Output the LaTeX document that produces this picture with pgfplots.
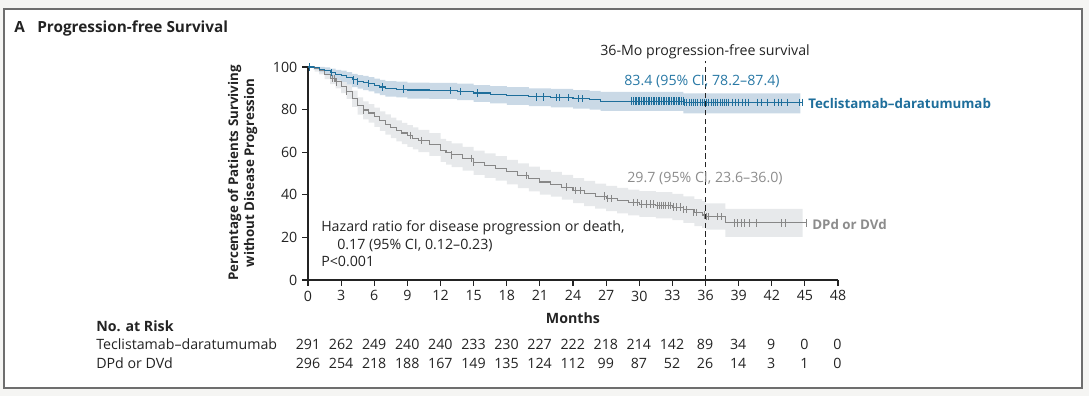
\documentclass[border=0pt]{standalone}
\usepackage{pgfplots}
\pgfplotsset{compat=1.18}
\usepackage{pgfplotstable}
\usepgfplotslibrary{fillbetween}
\usepackage{fontspec}
\setmainfont{Open Sans}
\definecolor{tdblue}{RGB}{30,110,155}
\definecolor{tdbluetxt}{RGB}{40,120,165}
\definecolor{tdband}{RGB}{202,217,230}
\definecolor{dgray}{RGB}{135,135,135}
\definecolor{dgraytxt}{RGB}{140,140,140}
\definecolor{dband}{RGB}{231,233,235}
\definecolor{bgout}{RGB}{245,245,243}
\definecolor{framec}{RGB}{110,110,110}
\definecolor{txt}{RGB}{35,35,35}
\newcommand{\fs}{\fontsize{10.65pt}{12pt}\selectfont}
\newcommand{\fb}{\fontsize{10pt}{12pt}\selectfont\bfseries}

\pgfplotstableread{
t s
0 100
0.5 99.6
1 99.0
1.5 98.3
2 97.3
2.5 96.6
3 96.0
3.5 95.0
4 94.0
4.5 93.3
5 92.8
5.5 92.2
6 91.3
6.5 90.6
7 90.0
8 89.6
9 89.2
11 89.0
13.5 88.6
15 87.8
16.5 87.2
18 86.6
20 86.0
22 85.6
24 85.1
25.5 84.6
26.5 84.0
34 83.4
44.8 83.4
}\tdcurve

\pgfplotstableread{
t l u
0 100 100
0.5 98.8 100
1 97.6 100
1.5 96.4 99.8
2 94.8 99.2
2.5 93.8 98.7
3 93.0 98.3
3.5 91.8 97.6
4 90.6 96.8
4.5 89.8 96.2
5 89.2 95.8
5.5 88.5 95.3
6 87.6 94.5
6.5 86.8 93.9
7 86.1 93.4
8 85.7 93.1
9 85.2 92.7
11 85.0 92.5
13.5 84.5 92.2
15 83.6 91.5
16.5 82.9 91.0
18 82.2 90.5
20 81.6 90.0
22 81.1 89.7
24 80.5 89.2
25.5 80.0 88.8
26.5 79.4 88.3
34 78.2 87.6
44.6 78.2 87.6
}\tdbandtab

\pgfplotstableread{
t s
0 100
0.6 99.3
1.0 98.3
1.5 96.6
2.0 94.6
2.5 93.0
3.0 91.0
3.5 88.6
4.0 85.3
4.5 81.8
5.0 79.8
5.5 78.4
6.0 76.6
6.5 74.8
7.0 73.2
7.5 71.6
8.0 70.2
8.5 69.0
9.0 67.8
9.5 66.6
10.0 65.4
11.0 63.8
12.0 61.0
12.5 59.8
13.0 58.7
14.0 57.0
15.0 55.2
16.0 53.8
17.0 52.5
18.0 50.8
19.0 49.0
20.0 47.5
21.0 46.0
22.0 45.0
23.0 43.6
24.0 42.0
25.0 40.6
26.0 39.4
27.0 38.2
28.0 37.2
29.0 36.3
30.0 35.6
31.5 35.0
33.0 34.2
34.0 33.0
35.0 31.6
35.7 30.5
36.0 29.7
37.8 26.8
45.1 26.8
}\dcurve

\pgfplotstableread{
t l u
0 100 100
0.6 97.8 100
1.0 96.5 99.8
1.5 94.3 98.6
2.0 91.9 97.0
2.5 90.0 95.7
3.0 87.7 94.0
3.5 85.0 91.9
4.0 81.3 88.9
4.5 77.6 85.7
5.0 75.4 83.9
5.5 73.9 82.6
6.0 71.9 80.9
6.5 70.0 79.2
7.0 68.3 77.7
7.5 66.6 76.2
8.0 65.1 74.9
8.5 63.8 73.8
9.0 62.5 72.7
9.5 61.3 71.6
10.0 60.0 70.5
11.0 58.3 69.0
12.0 55.4 66.3
12.5 54.2 65.2
13.0 53.0 64.1
14.0 51.3 62.5
15.0 49.4 60.7
16.0 48.0 59.4
17.0 46.6 58.1
18.0 44.9 56.4
19.0 43.1 54.7
20.0 41.6 53.2
21.0 40.1 51.7
22.0 39.1 50.8
23.0 37.7 49.4
24.0 36.1 47.8
25.0 34.7 46.5
26.0 33.5 45.3
27.0 32.3 44.2
28.0 31.3 43.2
29.0 30.3 42.4
30.0 29.6 41.7
31.5 28.9 41.2
33.0 28.1 40.4
34.0 26.8 39.3
35.0 25.3 38.0
35.7 24.3 37.0
36.0 23.6 36.0
37.8 20.3 33.4
44.8 20.3 33.4
}\dbandtab

\pgfplotstableread{
t s
0.1 100
2.1 97.3
4.1 94.0
4.5 93.3
5.5 92.2
6.7 90.6
8.6 89.6
12.9 89.0
13.8 88.6
15.3 87.8
20.7 86.0
21.3 86.0
22.5 85.6
22.8 85.6
23.6 85.6
24.5 85.1
24.8 85.1
29.3 84.0
29.45 84.0
29.6 84.0
29.75 84.0
29.9 84.0
30.05 84.0
30.2 84.0
30.35 84.0
30.5 84.0
30.65 84.0
30.8 84.0
30.95 84.0
31.1 84.0
31.25 84.0
31.4 84.0
31.55 84.0
31.7 84.0
31.85 84.0
32.0 84.0
32.15 84.0
32.3 84.0
32.45 84.0
32.6 84.0
32.75 84.0
32.9 84.0
33.05 84.0
33.2 84.0
33.35 84.0
33.5 84.0
33.65 84.0
33.8 84.0
33.95 84.0
34.1 83.4
34.3 83.4
34.5 83.4
34.7 83.4
34.9 83.4
35.1 83.4
35.3 83.4
35.5 83.4
35.7 83.4
35.9 83.4
36.1 83.4
36.3 83.4
36.5 83.4
36.7 83.4
36.9 83.4
37.1 83.4
37.3 83.4
37.5 83.4
37.7 83.4
37.9 83.4
38.1 83.4
38.4 83.4
38.7 83.4
39.0 83.4
39.3 83.4
39.6 83.4
39.9 83.4
40.7 83.4
41.1 83.4
41.6 83.4
42.2 83.4
42.6 83.4
42.9 83.4
43.4 83.4
44.5 83.4
44.8 83.4
}\tdcens

\pgfplotstableread{
t s
2.2 94.6
2.4 94.6
2.6 93.0
3.5 88.6
5.0 79.8
9.25 67.8
10.3 65.4
13.0 58.7
14.8 57.0
15.0 55.2
19.8 49.0
23.4 43.6
24.2 42.0
24.7 42.0
26.8 39.4
27.1 38.2
27.5 38.2
29.5 36.3
29.8 36.3
30.2 35.6
30.6 35.6
31.0 35.6
31.3 35.6
31.6 35.0
31.8 35.0
32.0 35.0
32.2 35.0
32.4 35.0
32.6 35.0
32.8 35.0
33.1 34.2
33.4 34.2
33.7 34.2
34.0 33.0
34.3 33.0
34.9 31.6
35.2 31.6
35.9 30.5
36.1 29.7
36.3 29.7
37.1 29.7
37.4 29.7
38.6 26.8
38.9 26.8
39.2 26.8
39.5 26.8
40.0 26.8
40.6 26.8
42.9 26.8
43.2 26.8
45.1 26.8
}\dcens

\begin{document}
\begin{tikzpicture}
\begin{axis}[
  at={(231pt,87pt)}, anchor=south west,
  scale only axis, width=397.5pt, height=159.75pt,
  xmin=0, xmax=48, ymin=0, ymax=100,
  axis lines=left,
  axis line style={-, line width=0.8pt, txt},
  xtick={0,3,...,48}, ytick={0,20,...,100},
  tick align=outside, major tick length=4.5pt,
  tick style={line width=0.8pt, txt},
  tick label style={font=\fs, text=txt},
  /pgf/number format/assume math mode=true,
  clip=false,
]
\addplot[name path=du, draw=none, const plot, forget plot] table[x=t,y=u]{\dbandtab};
\addplot[name path=dl, draw=none, const plot, forget plot] table[x=t,y=l]{\dbandtab};
\addplot[dband, forget plot] fill between[of=du and dl];
\addplot[name path=bu, draw=none, const plot, forget plot] table[x=t,y=u]{\tdbandtab};
\addplot[name path=bl, draw=none, const plot, forget plot] table[x=t,y=l]{\tdbandtab};
\addplot[tdband, forget plot] fill between[of=bu and bl];

\addplot[const plot, dgray, line width=0.8pt] table[x=t,y=s]{\dcurve};
\addplot[const plot, tdblue, line width=0.8pt] table[x=t,y=s]{\tdcurve};
\addplot[only marks, mark=|, mark size=2.8pt, dgray, mark options={line width=0.5pt}] table[x=t,y=s]{\dcens};
\addplot[only marks, mark=|, mark size=2.8pt, tdblue, mark options={line width=0.5pt}] table[x=t,y=s]{\tdcens};
\addplot[txt, line width=0.8pt, dash pattern=on 4pt off 2.5pt] coordinates {(36,0) (36,102.8)};
\end{axis}

\begin{scope}[x=0.75pt,y=-0.75pt,yshift=297pt]
\fill[bgout, even odd rule] (0,0) rectangle (1089,396) (4,9) rectangle (1082,388);
\draw[framec, line width=1.3pt] (4,9) rectangle (1082,388);

\node[anchor=base west, inner sep=0, font=\fontsize{11.5pt}{13pt}\selectfont\bfseries, text=txt] at (14,33) {A};
\node[anchor=base west, inner sep=0, font=\fontsize{11.5pt}{13pt}\selectfont\bfseries, text=txt] at (37,33) {Progression-free Survival};

\node[rotate=90, anchor=base, inner sep=0, font=\fb, text=txt] at (238,173) {Percentage of Patients Surviving};
\node[rotate=90, anchor=base, inner sep=0, font=\fb, text=txt] at (254,173) {without Disease Progression};
\node[anchor=base, inner sep=0, font=\fs\bfseries, text=txt] at (573,324) {Months};

\node[anchor=base, inner sep=0, font=\fs, text=txt] at (705,56) {36-Mo progression-free survival};
\node[anchor=base, inner sep=0, font=\fs, text=tdbluetxt] at (702,86) {83.4 (95\% CI, 78.2--87.4)};
\node[anchor=base west, inner sep=0, font=\fb, text=tdblue] at (808,109) {Teclistamab--daratumumab};
\node[anchor=base, inner sep=0, font=\fs, text=dgraytxt] at (705,183) {29.7 (95\% CI, 23.6--36.0)};
\node[anchor=base west, inner sep=0, font=\fb, text=dgraytxt] at (812,230) {DPd or DVd};

\node[anchor=base west, inner sep=0, font=\fs, text=txt] at (321,232) {Hazard ratio for disease progression or death,};
\node[anchor=base west, inner sep=0, font=\fs, text=txt] at (337,250) {0.17 (95\% CI, 0.12--0.23)};
\node[anchor=base west, inner sep=0, font=\fs, text=txt] at (321,267) {P<0.001};

\node[anchor=base west, inner sep=0, font=\fs\bfseries, text=txt] at (96,332) {No. at Risk};
\node[anchor=base west, inner sep=0, font=\fs, text=txt] at (96,350) {Teclistamab--daratumumab};
\node[anchor=base west, inner sep=0, font=\fs, text=txt] at (96,369) {DPd or DVd};
\foreach \m/\a/\b in {0/291/296,3/262/254,6/249/218,9/240/188,12/240/167,15/233/149,18/230/135,21/227/124,24/222/112,27/218/99,30/214/87,33/142/52,36/89/26,39/34/14,42/9/3,45/0/1,48/0/0}{
  \node[anchor=base, inner sep=0, font=\fs, text=txt] at ({308+11.03*\m},350) {\a};
  \node[anchor=base, inner sep=0, font=\fs, text=txt] at ({308+11.03*\m},369) {\b};
}
\end{scope}
\end{tikzpicture}
\end{document}
